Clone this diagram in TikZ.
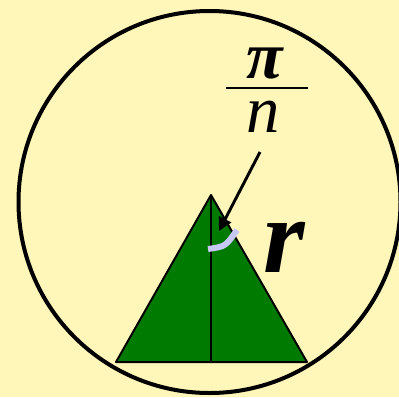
\documentclass[tikz,border=0pt]{standalone}
\usepackage{fontspec}
\setmainfont{Liberation Serif}
\usetikzlibrary{arrows.meta}
\definecolor{bgyellow}{RGB}{255,247,185}
\definecolor{trigreen}{RGB}{0,122,0}
\definecolor{lavender}{RGB}{200,200,245}
\tikzset{
  mathtxt/.style={inner sep=0pt, anchor=base, text height=0.48em, text depth=0pt, font=\fontsize{50}{50}\selectfont},
  bigr/.style={inner sep=0pt, anchor=base, font=\fontsize{80}{80}\selectfont\bfseries\itshape},
  outline/.style={draw=black, line width=1.5pt},
}
\begin{document}
\begin{tikzpicture}[x=0.75pt, y=-0.75pt]
  \fill[bgyellow] (0,0) rectangle (399,397);
  \useasboundingbox (0,0) rectangle (399,397);
  \begin{scope}
    \clip (0,0) rectangle (399,397);
    \draw[line width=3pt] (209.5,202) circle[radius=191];
  \end{scope}
  % triangle
  \coordinate (apex) at (211,195);
  \coordinate (bl) at (116,362);
  \coordinate (br) at (307,362);
  \coordinate (bm) at (211,362);
  \filldraw[fill=trigreen, outline, line join=round] (apex) -- (bl) -- (br) -- cycle;
  \draw[outline] (apex) -- (bm);
  % angle mark
  \coordinate (arcA) at (208,249);
  \coordinate (arcB) at (237,230);
  \draw[lavender, line width=4.5pt] (arcA) .. controls (225.5,246.5) .. (arcB);
  % fraction
  \node[mathtxt] (pi) at (265,78) {\bfseries\itshape π};
  \coordinate (barL) at (226,88);
  \coordinate (barR) at (308,88);
  \draw[line width=1.5pt] (barL) -- (barR);
  \node[mathtxt] (n) at (263,132) {\itshape n};
  % arrow
  \coordinate (arrS) at (260,152);
  \coordinate (arrE) at (219,231);
  \draw[line width=2.2pt, -{Triangle[length=10pt,width=10pt]}] (arrS) -- (arrE);
  % r
  \node[bigr] (r) at (284,272) {r};
\end{tikzpicture}
\end{document}
